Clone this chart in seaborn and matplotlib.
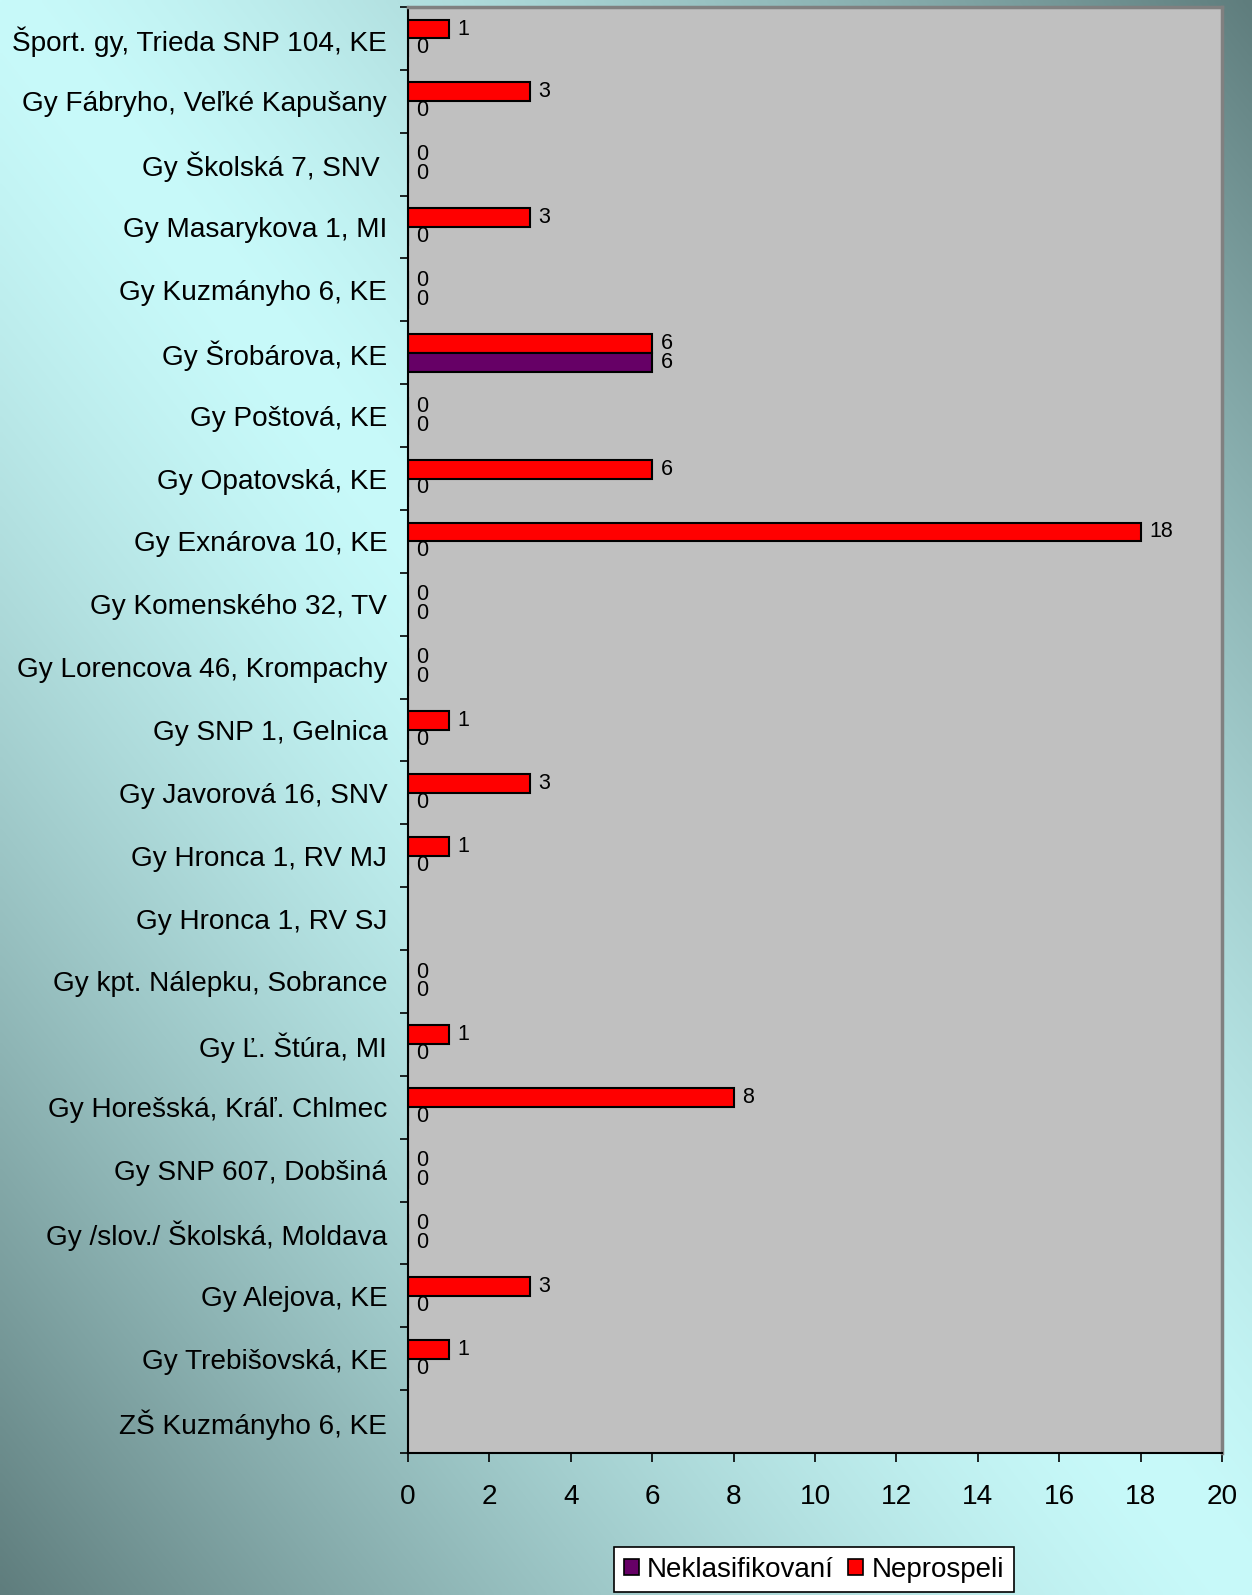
import numpy as np
import pandas as pd
import matplotlib
matplotlib.use("Agg")
import matplotlib.pyplot as plt
import seaborn as sns
from matplotlib.patches import Patch

# údaje zo zdrojového grafu (zhora nadol)
skoly = [
    "Šport. gy, Trieda SNP 104, KE",
    "Gy Fábryho, Veľké Kapušany",
    "Gy Školská 7, SNV ",
    "Gy Masarykova 1, MI",
    "Gy Kuzmányho 6, KE",
    "Gy Šrobárova, KE",
    "Gy Poštová, KE",
    "Gy Opatovská, KE",
    "Gy Exnárova 10, KE",
    "Gy Komenského 32, TV",
    "Gy Lorencova 46, Krompachy",
    "Gy SNP 1, Gelnica",
    "Gy Javorová 16, SNV",
    "Gy Hronca 1, RV MJ",
    "Gy Hronca 1, RV SJ",
    "Gy kpt. Nálepku, Sobrance",
    "Gy Ľ. Štúra, MI",
    "Gy Horešská, Kráľ. Chlmec",
    "Gy SNP 607, Dobšiná",
    "Gy /slov./ Školská, Moldava",
    "Gy Alejova, KE",
    "Gy Trebišovská, KE",
    "ZŠ Kuzmányho 6, KE",
]
neprospeli = [1, 3, 0, 3, 0, 6, 0, 6, 18, 0, 0, 1, 3, 1, np.nan, 0, 1, 8, 0, 0, 3, 1, np.nan]
neklasifikovani = [0, 0, 0, 0, 0, 6, 0, 0, 0, 0, 0, 0, 0, 0, np.nan, 0, 0, 0, 0, 0, 0, 0, np.nan]
x_ticks = list(range(0, 21, 2))

df = pd.DataFrame({
    "skola": skoly * 2,
    "pocet": neprospeli + neklasifikovani,
    "skupina": ["Neprospeli"] * len(skoly) + ["Neklasifikovaní"] * len(skoly),
})
farby = {"Neprospeli": "#ff0000", "Neklasifikovaní": "#660066"}

plt.rcParams["font.family"] = ["Liberation Sans", "DejaVu Sans"]

fig = plt.figure(figsize=(12.52, 15.95), dpi=100)

# pozadie s prechodom
bg = fig.add_axes([0, 0, 1, 1], zorder=-1)
yy, xx = np.mgrid[0:1:400j, 0:1:320j]
t = np.abs(xx - yy) ** 1.4
svetla = np.array([200, 250, 250]) / 255
tmava = np.array([95, 125, 125]) / 255
grad = svetla + t[..., None] * (tmava - svetla)
bg.imshow(grad, aspect="auto", extent=[0, 1, 0, 1], interpolation="bilinear")
bg.axis("off")

ax = fig.add_axes([408 / 1252, 1 - 1453 / 1595, (1222 - 408) / 1252, (1453 - 7) / 1595])
ax.set_facecolor("#c0c0c0")

sns.barplot(data=df, x="pocet", y="skola", hue="skupina", order=skoly,
            hue_order=["Neprospeli", "Neklasifikovaní"], palette=farby,
            orient="h", width=0.6, saturation=1, errorbar=None,
            edgecolor="black", linewidth=1.5, legend=False, ax=ax)

for cont in ax.containers:
    ax.bar_label(cont, fmt="%g", padding=6, fontsize=15.5)

ax.set_xlim(0, 20)
ax.set_ylim(len(skoly) - 0.5, -0.5)
ax.set_xticks(x_ticks)
ax.set_xlabel("")
ax.set_ylabel("")
ax.tick_params(axis="x", labelsize=20.2, length=6.5, width=1.2, pad=16, color="black")
ax.tick_params(axis="y", which="major", labelsize=20.2, length=0, pad=15)
ax.set_yticks(np.arange(-0.5, len(skoly), 1), minor=True)
ax.tick_params(axis="y", which="minor", length=6, width=1.2, color="black")

for s in ["left", "bottom"]:
    ax.spines[s].set_color("black")
    ax.spines[s].set_linewidth(1.5)
for s in ["top", "right"]:
    ax.spines[s].set_color("#808080")
    ax.spines[s].set_linewidth(2.5)

handles = [Patch(facecolor=farby[k], edgecolor="black", linewidth=1.2, label=k)
           for k in ["Neklasifikovaní", "Neprospeli"]]
leg = fig.legend(handles=handles, loc="upper center", bbox_to_anchor=(0.65, 1 - 1547 / 1595),
                 ncol=2, fontsize=20, frameon=True, fancybox=False, framealpha=1,
                 edgecolor="black", handlelength=0.55, handleheight=0.55,
                 handletextpad=0.3, columnspacing=0.5, borderpad=0.35, borderaxespad=0)
leg.get_frame().set_linewidth(1.2)

fig.savefig("out.png", dpi=100)
